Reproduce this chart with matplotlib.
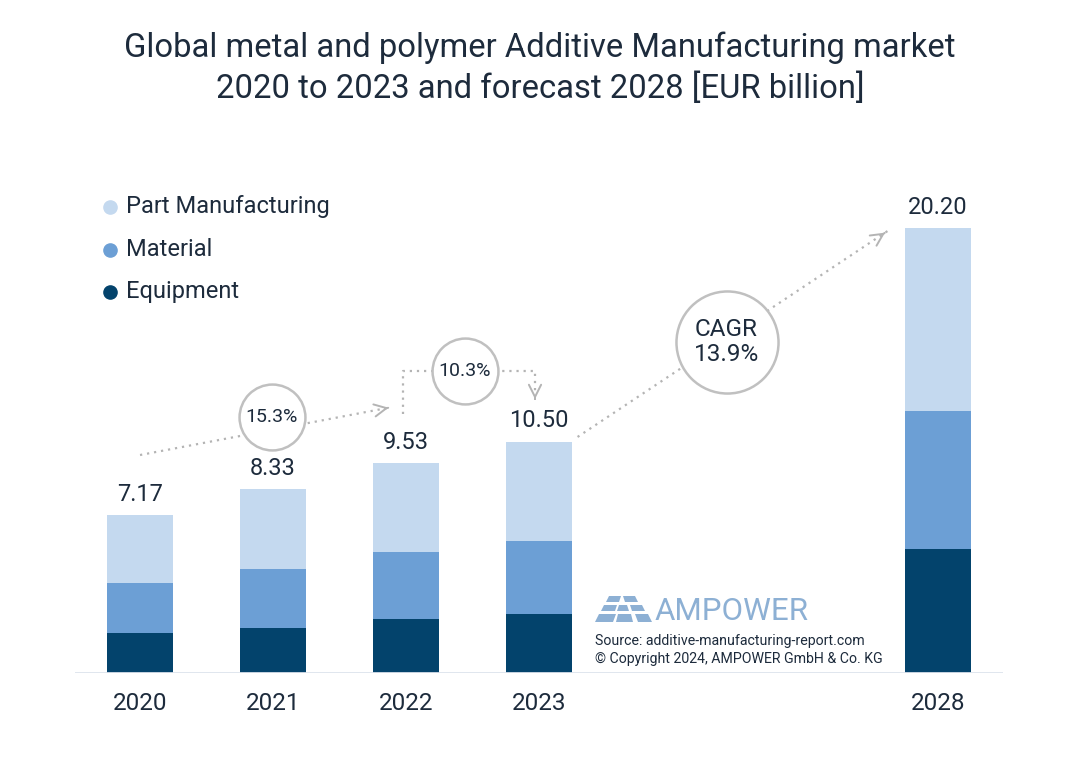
import matplotlib
matplotlib.use('Agg')
import matplotlib.pyplot as plt
import numpy as np
from matplotlib.patches import Polygon
from matplotlib.lines import Line2D

plt.rcParams['font.family'] = ['Roboto', 'DejaVu Sans']

# ── Data ─────────────────────────────────────────────────────────
years = ['2020', '2021', '2022', '2023', '2028']
x_pos = [0, 1, 2, 3, 6]
equipment = [1.80, 2.03, 2.46, 2.68, 5.63]
material = [2.30, 2.67, 3.04, 3.32, 6.26]
part_mfg = [3.07, 3.63, 4.03, 4.50, 8.31]
totals = ['7.17', '8.33', '9.53', '10.50', '20.20']
series_names = ['Part Manufacturing', 'Material', 'Equipment']
growth_labels = ['15.3%', '10.3%', 'CAGR\n13.9%']

c_light = '#c4d9ef'
c_mid = '#6c9fd5'
c_dark = '#03436c'
c_text = '#1d2b3c'
c_grey = '#b4b4b4'

W, H = 1080, 777
fig = plt.figure(figsize=(W / 100, H / 100), dpi=100, facecolor='white')

# axes placed in pixel terms: baseline at y=673, spans x 75..1003
ax_left, ax_right, ax_base, ax_top = 75, 1003, 673, 180
ax = fig.add_axes([ax_left / W, (H - ax_base) / H,
                   (ax_right - ax_left) / W, (ax_base - ax_top) / H])
px_per_unit = 22.04
ax.set_xlim(-0.489, 6.489)
ax.set_ylim(0, (ax_base - ax_top) / px_per_unit)
ax.axis('off')

eq = np.array(equipment)
ma = np.array(material)
pa = np.array(part_mfg)
bw = 0.5
ax.bar(x_pos, eq, width=bw, color=c_dark, zorder=2)
ax.bar(x_pos, ma, width=bw, bottom=eq, color=c_mid, zorder=2)
ax.bar(x_pos, pa, width=bw, bottom=eq + ma, color=c_light, zorder=2)

# baseline
ax.axhline(0, color='#dde3ec', lw=2, zorder=3)

# totals above bars
for x, t, v in zip(x_pos, totals, eq + ma + pa):
    ax.text(x, v + 0.42, t, ha='center', va='bottom', fontsize=17,
            color=c_text)

# year labels
for x, y in zip(x_pos, years):
    ax.text(x, -1.37, y, ha='center', va='center', fontsize=17.5,
            color=c_text, clip_on=False)

# ── Growth annotations ──────────────────────────────────────────
dot = dict(color=c_grey, lw=1.6, linestyle=(0, (1, 2.2)), zorder=1)
head = dict(arrowstyle='->', color=c_grey, lw=1.4, mutation_scale=22)

def arrow_tip(start, end):
    d = np.array(end) - np.array(start)
    back = np.array(end) - d / np.linalg.norm(d * [133, 22.04]) * 6
    ax.annotate('', xy=end, xytext=tuple(back), arrowprops=head, zorder=1)

# 2020 -> 2021/2022
p0, p1 = (0.0, 9.89), (1.89, 12.06)
ax.plot([p0[0], p1[0]], [p0[1], p1[1]], **dot)
arrow_tip(p0, p1)
ax.scatter([0.99], [11.6], s=2250, facecolor='white', edgecolor='#c0c0c0',
           lw=1.8, zorder=4)
ax.text(0.99, 11.6, growth_labels[0], ha='center', va='center',
        fontsize=14, color=c_text, zorder=5)

# 2022 -> 2023 bracket
bx = [1.98, 1.98, 2.97, 2.97]
by = [11.75, 13.72, 13.72, 12.6]
ax.plot(bx, by, **dot)
arrow_tip((2.97, 13.0), (2.97, 12.3))
ax.scatter([2.44], [13.72], s=2250, facecolor='white', edgecolor='#c0c0c0',
           lw=1.8, zorder=4)
ax.text(2.44, 13.72, growth_labels[1], ha='center', va='center',
        fontsize=14, color=c_text, zorder=5)

# 2023 -> 2028 CAGR
q0, q1 = (3.29, 10.71), (5.62, 20.05)
ax.plot([q0[0], q1[0]], [q0[1], q1[1]], **dot)
arrow_tip(q0, q1)
ax.scatter([4.41], [15.03], s=5400, facecolor='white', edgecolor='#c0c0c0',
           lw=1.8, zorder=4)
ax.text(4.41, 15.03, growth_labels[2], ha='center', va='center',
        fontsize=17.5, color=c_text, zorder=5, linespacing=1.1)

# ── Legend (manual) ─────────────────────────────────────────────
leg_colors = [c_light, c_mid, c_dark]
for i, (name, col) in enumerate(zip(series_names, leg_colors)):
    ypx = 207 + i * 42.5
    fig.add_artist(Line2D([110 / W], [(H - ypx) / H], marker='o',
                          markersize=9.5, color=col, lw=0))
    fig.text(126 / W, (H - ypx) / H, name, ha='left', va='center',
             fontsize=17, color=c_text)

# ── Title ───────────────────────────────────────────────────────
fig.text(0.5, (H - 48) / H, 'Global metal and polymer Additive Manufacturing market',
         ha='center', va='center', fontsize=23.6, color=c_text)
fig.text(0.5, (H - 89) / H, '2020 to 2023 and forecast 2028 [EUR billion]',
         ha='center', va='center', fontsize=23.6, color=c_text)

# ── AMPOWER logo + source ──────────────────────────────────────
logo_c = '#8db0d4'
def fpoly(pts):
    pts = [(x / W, (H - y) / H) for x, y in pts]
    fig.add_artist(Polygon(pts, closed=True, facecolor=logo_c,
                           edgecolor='none', transform=fig.transFigure))

fpoly([(609, 596), (621, 596), (619, 602), (606, 602)])
fpoly([(623, 596), (635, 596), (638, 602), (625, 602)])
fpoly([(604, 605), (617, 605), (615, 611), (601, 611)])
fpoly([(619, 605), (627, 605), (629, 611), (617, 611)])
fpoly([(630, 605), (642, 605), (645, 611), (632, 611)])
fpoly([(599, 614), (616, 614), (613, 622), (595, 622)])
fpoly([(618, 614), (631, 614), (633, 622), (616, 622)])
fpoly([(635, 614), (648, 614), (652, 622), (638, 622)])
fig.text(655 / W, (H - 612) / H, 'AMPOWER', ha='left', va='center',
         fontsize=22.5, color=logo_c)
fig.text(595 / W, (H - 641) / H, 'Source: additive-manufacturing-report.com',
         ha='left', va='center', fontsize=10.2, color=c_text)
fig.text(595 / W, (H - 659) / H, '\u00a9 Copyright 2024, AMPOWER GmbH & Co. KG',
         ha='left', va='center', fontsize=10.2, color=c_text)

fig.savefig('out.png', dpi=100, facecolor='white')
